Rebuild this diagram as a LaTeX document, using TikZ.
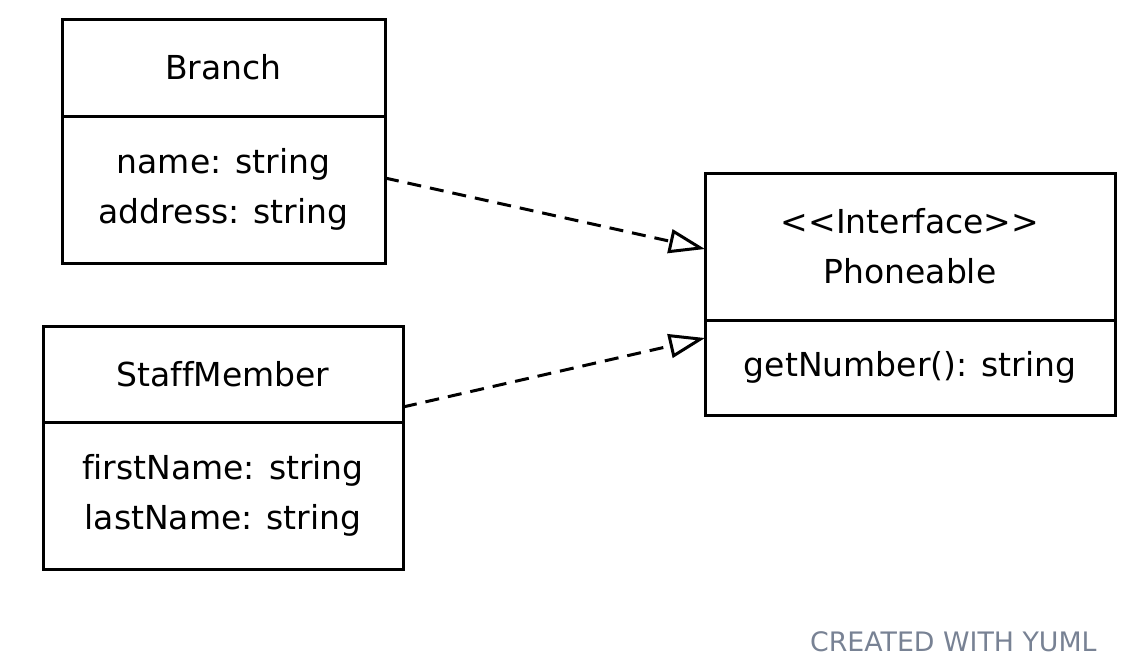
\documentclass[tikz,border=0pt]{standalone}
\usepackage{fontspec}
\setmainfont{DejaVu Sans}[Ligatures=NoCommon]
\usetikzlibrary{positioning,arrows.meta}
\definecolor{yumlgray}{RGB}{120,130,148}

\begin{document}
\begin{tikzpicture}[x=0.5pt, y=-0.5pt,
    classbox/.style={draw, line width=1.5pt, outer sep=0pt, inner sep=0pt, align=center,
        font=\fontsize{16.5pt}{25pt}\selectfont},
    realize/.style={line width=1.5pt, dash pattern=on 7pt off 4.5pt,
        -{Triangle[open, length=18pt, width=12pt]}}]
    \useasboundingbox (0,0) rectangle (1130,670);

    \node[classbox, minimum width=161.5pt, minimum height=48.5pt] (btitle) at (223.5,67.5) {Branch};
    \node[classbox, minimum width=161.5pt, minimum height=73.5pt, below=0pt of btitle] (bbody) {name: string\\address: string};

    \node[classbox, minimum width=180pt, minimum height=48pt] (stitle) at (223,374) {StaffMember};
    \node[classbox, minimum width=180pt, minimum height=73.5pt, below=0pt of stitle] (sbody) {firstName: string\\lastName: string};

    \node[classbox, minimum width=205pt, minimum height=73.5pt] (ptitle) at (910,246.5) {<\kern0pt<Interface>\kern0pt>\\Phoneable};
    \node[classbox, minimum width=205pt, minimum height=47.5pt, below=0pt of ptitle] (pbody) {getNumber(): string};

    \draw[realize] ([yshift=5.75pt]bbody.east) -- ([yshift=-1.25pt]ptitle.west);
    \draw[realize] ([yshift=-16.5pt]stitle.east) -- ([yshift=14.75pt]pbody.west);

    \node[anchor=base east, inner sep=0pt, text=yumlgray, font=\fontsize{13.4pt}{16pt}\selectfont] (yuml) at (1097,651) {CREATED WITH YUML};
\end{tikzpicture}
\end{document}
